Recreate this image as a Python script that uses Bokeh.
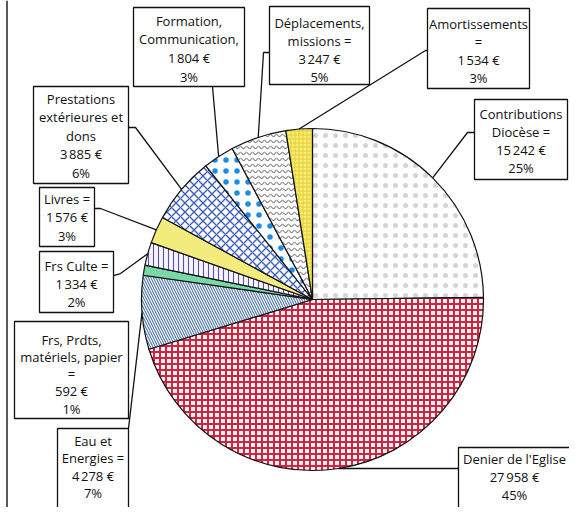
import math
from bokeh.plotting import figure
from bokeh.models import Range1d
from bokeh.core.properties import value
from bokeh.embed import file_html
from bokeh.resources import INLINE

# ---------------- data ----------------
categories = ["Contributions Diocèse", "Denier de l'Eglise", "Eau et Energies",
              "Frs, Prdts, matériels, papier", "Frs Culte", "Livres",
              "Prestations extérieures et dons", "Formation, Communication",
              "Déplacements, missions", "Amortissements"]
amounts = [15242, 27958, 4278, 592, 1334, 1576, 3885, 1804, 3247, 1534]
percents = [25, 45, 7, 1, 2, 3, 6, 3, 5, 3]
label_heads = [["Contributions", "Diocèse ="], ["Denier de l'Eglise"], ["Eau et", "Energies ="],
               ["Frs, Prdts,", "matériels, papier", "="], ["Frs Culte ="], ["Livres ="],
               ["Prestations", "extérieures et", "dons"], ["Formation,", "Communication,"],
               ["Déplacements,", "missions ="], ["Amortissements", "="]]

# ---------------- styles ----------------
fills = ["#ffffff", "#fff4f5", "#ffffff", "#79d9a6", "#f6f4fc", "#f6ef6e",
         "#ffffff", "#ffffff", "#ffffff", "#f7ef62"]
hatches = ["dot", "cross", "left_diagonal_line", " ", "vertical_line", "right_diagonal_line",
           "diagonal_cross", "dot", "horizontal_wave", "cross"]
hatch_colors = ["#b0b0b0", "#d2233f", "#4f74a8", "#79d9a6", "#5b4fa8", "#ece59a",
                "#3a5cc0", "#1a8ce6", "#555555", "#e2c545"]
hatch_scales = [10, 6, 5, 8, 5, 6, 9, 11, 6, 4]
hatch_weights = [1.0, 2.0, 1.1, 1, 1.1, 1, 1.4, 1, 1, 0.8]
hatch_alphas = [0.55, 1, 1, 1, 1, 1, 1, 1, 1, 1]

# layout (picture pixel coordinates, y downward)
W, H = 569, 507
cx, cy_img, R = 312, 299, 171
boxes = [(474, 567, 99, 179), (458, 575, 447, 540), (57, 128, 428, 540),
         (14, 128, 321, 418), (39, 113, 251, 312), (39, 94, 187, 246),
         (33, 128, 86, 183), (133, 244, 7, 86), (269, 369, 6, 84), (427, 529, 8, 88)]
text_x = [520.5, 514, 92.5, 71, 76, 66.5, 80.5, 188.5, 319, 478]
text_y0 = [113.5, 458, 440, 339, 265, 198, 98, 20, 22, 23]
text_dy = [18, 18, 17.5, 17.3, 18, 18.5, 18.5, 18.7, 18, 18.3]
leader_elbows = [[(474, 132), (467, 132)], [(458, 468), (450, 468)], [(128, 428)], [],
                 [(113, 275), (120, 273)], [(94, 208), (100, 208)],
                 [(128, 127), (135, 127)], [(212, 86)], [(269, 52), (263, 52)],
                 [(427, 50), (425, 50)]]


def Y(y):
    return H - y


p = figure(width=W, height=H, x_range=Range1d(0, W), y_range=Range1d(0, H),
           output_backend="svg", toolbar_location=None, min_border=0)
p.axis.visible = False
p.grid.visible = False
p.outline_line_color = None
p.background_fill_color = "white"
p.border_fill_color = "white"

total = sum(amounts)
cum = [0]
for a in amounts:
    cum.append(cum[-1] + a / total)

cy = Y(cy_img)
for i in range(len(amounts)):
    start = math.pi / 2 - cum[i + 1] * 2 * math.pi
    end = math.pi / 2 - cum[i] * 2 * math.pi
    kw = {}
    if hatches[i].strip():
        kw = dict(hatch_pattern=hatches[i], hatch_color=hatch_colors[i],
                  hatch_scale=hatch_scales[i], hatch_weight=hatch_weights[i],
                  hatch_alpha=hatch_alphas[i])
    p.wedge(x=cx, y=cy, radius=R, start_angle=start, end_angle=end,
            fill_color=fills[i], line_color="#111111", line_width=1.2, **kw)

# leader lines
for i, elb in enumerate(leader_elbows):
    if not elb:
        continue
    mid = (cum[i] + cum[i + 1]) / 2 * 2 * math.pi
    ex = cx + R * math.sin(mid)
    ey = cy + R * math.cos(mid)
    xs = [e[0] for e in elb] + [ex]
    ys = [Y(e[1]) for e in elb] + [ey]
    p.line(xs, ys, line_color="#111111", line_width=1.3)

# label boxes
p.quad(left=[b[0] for b in boxes], right=[b[1] for b in boxes],
       top=[Y(b[2]) for b in boxes], bottom=[Y(b[3]) for b in boxes],
       fill_color="white", line_color="#111111", line_width=1.3)


def fmt(v):
    return f"{v:,}".replace(",", "\u202f")


tx, ty, tt = [], [], []
for i, (head, a, pc) in enumerate(zip(label_heads, amounts, percents)):
    lines = head + [f"{fmt(a)} €", f"{pc}%"]
    for k, ln in enumerate(lines):
        tx.append(text_x[i])
        ty.append(Y(text_y0[i] + k * text_dy[i]))
        tt.append(ln)

p.text(x=tx, y=ty, text=tt, text_align="center", text_baseline="middle",
       text_font=value("Open Sans"), text_font_size="13px", text_color="#111111")

# left frame line
p.line([6.5, 6.5], [Y(0), Y(H)], line_color="#222222", line_width=1.5)

open("out.html", "w").write(file_html(p, INLINE))
